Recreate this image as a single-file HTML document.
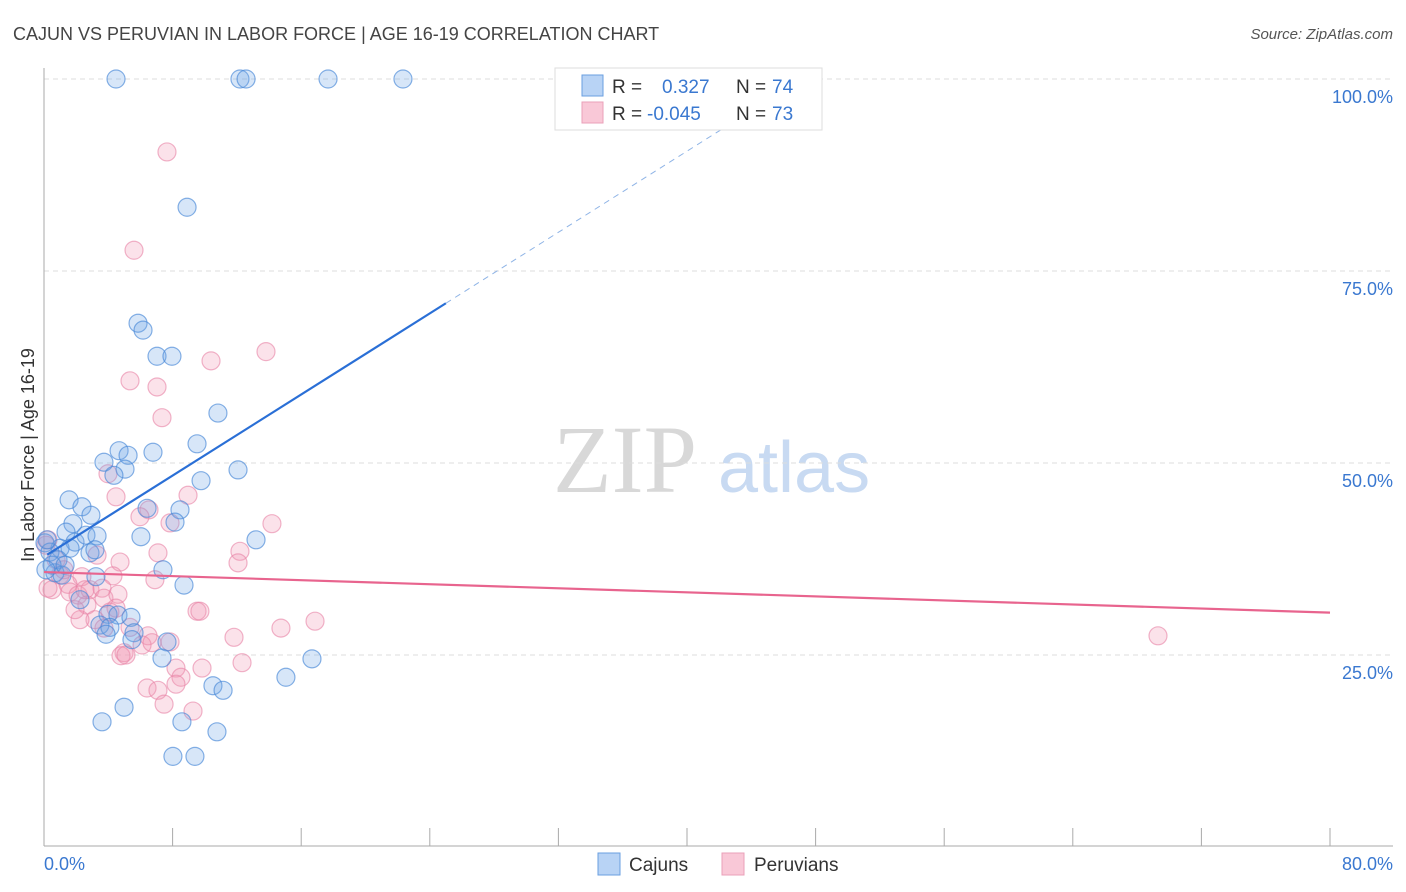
<!DOCTYPE html>
<html><head><meta charset="utf-8"><style>
body{margin:0;background:#fff;font-family:"Liberation Sans",sans-serif;}
svg{display:block}
</style></head><body>
<svg id="chart" width="1406" height="892" font-family="Liberation Sans, sans-serif">
<text x="13" y="40" font-size="18" fill="#444">CAJUN VS PERUVIAN IN LABOR FORCE | AGE 16-19 CORRELATION CHART</text>
<text x="1393" y="39" font-size="15" fill="#555" font-style="italic" text-anchor="end">Source: ZipAtlas.com</text>
<text transform="translate(34,455) rotate(-90)" font-size="18" fill="#333" text-anchor="middle">In Labor Force | Age 16-19</text>
<g>
<text x="553" y="492" font-size="96" font-family="Liberation Serif, serif" fill="#d8d8d8">ZIP</text>
<text x="718" y="492" font-size="72" fill="#c8daf2">atlas</text>
</g>
<g id="grid"></g>
<g id="axes"></g>
<g id="points"></g>
<g id="lines"></g>
<g>
<rect x="555" y="68" width="267" height="62" fill="#fff" stroke="#ddd"/>
<rect x="582" y="75" width="21" height="21" fill="#b8d3f5" stroke="#6a9fe0"/>
<rect x="582" y="102" width="21" height="21" fill="#f9c8d7" stroke="#eaa0b8"/>
<text x="612" y="93" font-size="19" fill="#333">R = </text>
<text x="662" y="93" font-size="19" fill="#3a78d0">0.327</text>
<text x="736" y="93" font-size="19" fill="#333">N = </text>
<text x="772" y="93" font-size="19" fill="#3a78d0">74</text>
<text x="612" y="120" font-size="19" fill="#333">R = </text>
<text x="647" y="120" font-size="19" fill="#3a78d0">-0.045</text>
<text x="736" y="120" font-size="19" fill="#333">N = </text>
<text x="772" y="120" font-size="19" fill="#3a78d0">73</text>
</g>
<g>
<rect x="598" y="853" width="22" height="22" fill="#b8d3f5" stroke="#6a9fe0"/>
<text x="629" y="871" font-size="19" fill="#333">Cajuns</text>
<rect x="722" y="853" width="22" height="22" fill="#f9c8d7" stroke="#eaa0b8"/>
<text x="754" y="871" font-size="19" fill="#333">Peruvians</text>
</g>
</svg>
<script>
const yTicks=[25,50,75,100];
const yTickLabels=["25.0%","50.0%","75.0%","100.0%"];
const xTickLabels=["0.0%","80.0%"];
const cajunX=[4.48,12.19,12.57,17.67,22.33,8.9,5.85,6.16,7.03,7.96,10.82,9.52,4.67,3.73,5.23,5.04,4.35,6.78,9.77,12.07,1.56,2.36,2.92,1.8,8.46,6.41,8.15,6.03,13.19,1.37,1.93,2.61,3.3,1.0,0.06,0.37,1.62,2.86,3.17,0.87,0.68,1.12,7.4,8.71,3.23,2.24,3.98,4.6,5.41,3.48,4.1,5.6,3.86,7.65,7.34,16.67,15.05,10.51,11.14,3.61,4.98,8.58,10.76,8.02,9.39,0.19,0.5,1.31,0.12,5.47];
const cajunY=[100,100,100,100,100,83.3,68.2,67.3,63.9,63.9,56.5,52.5,51.6,50.1,51.0,49.2,48.4,51.4,47.7,49.1,45.2,44.3,43.2,42.1,43.9,44.1,42.3,40.4,40.0,41.0,39.7,40.6,40.5,38.9,39.6,38.4,38.9,38.3,38.7,37.4,35.7,35.4,36.1,34.1,35.2,32.2,30.3,30.2,29.9,28.9,28.6,27.9,27.7,26.7,24.6,24.5,22.1,21.0,20.4,16.3,18.2,16.3,15.0,11.8,11.8,40.0,36.7,36.7,36.1,27.0];
const peruX=[7.65,5.6,13.81,10.39,5.35,7.03,7.34,3.98,4.48,8.96,6.53,5.97,7.84,14.18,12.19,7.09,12.07,3.3,4.73,4.29,6.9,2.36,1.49,0.25,0.5,1.62,2.12,2.86,3.61,3.73,4.6,4.48,2.67,3.17,2.24,9.52,9.7,16.86,14.74,11.82,3.73,5.35,6.47,7.84,6.1,6.72,4.98,4.79,5.1,12.32,9.83,8.21,8.52,8.21,6.41,7.09,7.47,9.27,69.3,0.75,1.0,1.24,0.12,2.55,1.93,4.1,0.25];
const peruY=[90.5,77.7,64.5,63.3,60.7,59.9,55.9,48.6,45.6,45.8,43.9,43.0,42.2,42.1,38.5,38.3,37.0,38.0,37.1,35.3,34.8,35.2,34.2,40.0,33.5,33.2,32.8,33.5,33.7,32.4,32.9,31.1,31.5,29.6,29.6,30.7,30.7,29.4,28.5,27.3,28.5,28.6,27.5,26.7,26.3,26.6,25.3,24.9,25.0,24.0,23.3,23.3,22.1,21.2,20.7,20.4,18.6,17.7,27.5,37.4,35.4,36.1,39.3,33.5,30.9,30.6,33.7];
const cajunTrend=[37.8,1.32];   // intercept, slope
const peruTrend=[35.8,-0.066];

const X0=44,X1=1330,Y0=847,Y100=79;
const sx=v=>X0+(v/80)*(X1-X0);
const sy=v=>Y0-(v/100)*(Y0-Y100);
const NS="http://www.w3.org/2000/svg";
function mk(tag,attrs,parent){const e=document.createElementNS(NS,tag);for(const k in attrs)e.setAttribute(k,attrs[k]);parent.appendChild(e);return e;}
const grid=document.getElementById('grid'),axes=document.getElementById('axes'),pts=document.getElementById('points'),lines=document.getElementById('lines');
yTicks.forEach((t,i)=>{
  const l=mk('line',{x1:X0,x2:1393,y1:sy(t),y2:sy(t),stroke:'#ddd','stroke-dasharray':'5,4'},grid);
  
  
  const tx=mk('text',{x:1393,y:sy(t)+24,'font-size':18,fill:'#3a78d0','text-anchor':'end'},axes);
  tx.textContent=yTickLabels[i];
  
  
});
let a=mk('line',{x1:X0,x2:X0,y1:68,y2:846,stroke:'#aaa'},axes);


a=mk('line',{x1:X0,x2:1393,y1:846,y2:846,stroke:'#aaa'},axes);


for(let i=0;i<=10;i++){
  const t=mk('line',{x1:sx(i*8),x2:sx(i*8),y1:828,y2:846,stroke:'#aaa'},axes);
  
  
}
let xl=mk('text',{x:44,y:870,'font-size':18,fill:'#3a78d0'},axes);xl.textContent=xTickLabels[0];


xl=mk('text',{x:1393,y:870,'font-size':18,fill:'#3a78d0','text-anchor':'end'},axes);xl.textContent=xTickLabels[1];



peruX.forEach((x,i)=>{
  const c=mk('circle',{cx:sx(x),cy:sy(peruY[i]),r:9,fill:'rgba(242,150,180,0.28)',stroke:'rgba(232,130,165,0.6)','stroke-width':1.2},pts);
  
  
});
cajunX.forEach((x,i)=>{
  const c=mk('circle',{cx:sx(x),cy:sy(cajunY[i]),r:9,fill:'rgba(110,165,230,0.28)',stroke:'rgba(70,135,215,0.65)','stroke-width':1.2},pts);
  
  
});
const cy=x=>cajunTrend[0]+cajunTrend[1]*x;
let ln=mk('line',{x1:sx(0.2),y1:sy(cy(0.2)),x2:sx(25),y2:sy(cy(25)),stroke:'#2a6fd6','stroke-width':2.2},lines);


const xe=(100-cajunTrend[0])/cajunTrend[1];
ln=mk('line',{x1:sx(25),y1:sy(cy(25)),x2:sx(xe),y2:sy(100),stroke:'#8fb4e6','stroke-width':1,'stroke-dasharray':'6,5'},lines);


const py=x=>peruTrend[0]+peruTrend[1]*x;
ln=mk('line',{x1:sx(0),y1:sy(py(0)),x2:sx(80),y2:sy(py(80)),stroke:'#e8648e','stroke-width':2.2},lines);


</script>
</body></html>
